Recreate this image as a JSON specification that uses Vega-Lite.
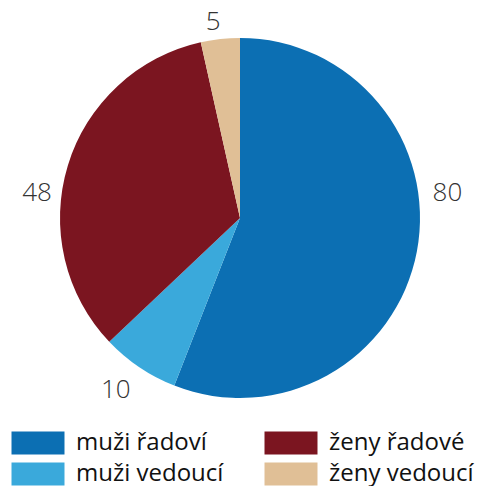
{
  "$schema": "https://vega.github.io/schema/vega-lite/v6.json",
  "width": 480,
  "height": 436,
  "autosize": {"type": "none"},
  "padding": {"left": 0, "top": 0, "right": 0, "bottom": 50},
  "data": {
    "values": [
      {"kat": "muži řadoví", "pocet": 80, "ord": 1},
      {"kat": "muži vedoucí", "pocet": 10, "ord": 2},
      {"kat": "ženy řadové", "pocet": 48, "ord": 3},
      {"kat": "ženy vedoucí", "pocet": 5, "ord": 4}
    ]
  },
  "encoding": {
    "theta": {"field": "pocet", "type": "quantitative", "stack": true},
    "order": {"field": "ord", "type": "quantitative"},
    "detail": {"field": "kat", "type": "nominal"}
  },
  "layer": [
    {
      "mark": {"type": "arc", "outerRadius": 180},
      "encoding": {
        "color": {
          "field": "kat",
          "type": "nominal",
          "scale": {
            "domain": ["muži řadoví", "muži vedoucí", "ženy řadové", "ženy vedoucí"],
            "range": ["#0c6fb3", "#3aa9db", "#7b1520", "#e0bf96"]
          },
          "legend": {
            "orient": "none",
            "legendX": 11,
            "legendY": 431,
            "columns": 2,
            "title": null,
            "symbolType": "M-2.304,-1H2.304V1H-2.304Z",
            "symbolSize": 529,
            "symbolOffset": 15,
            "symbolStrokeWidth": 0,
            "symbolOpacity": 1,
            "labelFont": "Open Sans",
            "labelFontSize": 24,
            "labelColor": "#111111",
            "labelOffset": 26,
            "columnPadding": 40,
            "rowPadding": 7
          }
        }
      }
    },
    {
      "mark": {
        "type": "text",
        "radius": 208,
        "dx": {"expr": "datum.ord == 1 ? 3 : datum.ord == 2 ? -8 : -4"},
        "dy": {"expr": "datum.ord == 1 ? -64 : datum.ord == 2 ? 0 : datum.ord == 3 ? 36 : 11"},
        "fontSize": 26,
        "font": "Open Sans",
        "fontWeight": 300,
        "color": "#333333"
      },
      "encoding": {"text": {"field": "pocet", "type": "quantitative"}}
    }
  ],
  "config": {"view": {"stroke": null}}
}
